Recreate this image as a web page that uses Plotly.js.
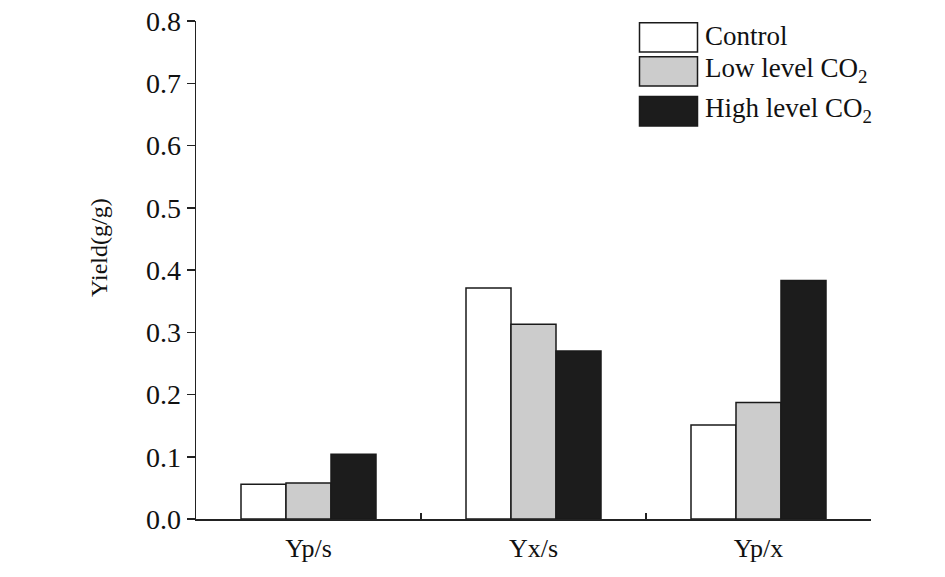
<!DOCTYPE html>
<html>
<head>
<meta charset="utf-8">
<script src="https://cdn.plot.ly/plotly-3.0.1.min.js"></script>
<style>html,body{margin:0;padding:0;background:#fff;}#chart{width:945px;height:577px;}</style>
</head>
<body>
<div id="chart"></div>
<script>
const categories = ["Yp/s", "Yx/s", "Yp/x"];
const seriesNames = ["Control", "Low level CO<sub>2</sub>", "High level CO<sub>2</sub>"];
const control = [0.056, 0.371, 0.151];
const lowCO2 = [0.058, 0.313, 0.187];
const highCO2 = [0.104, 0.270, 0.383];
const yTickVals = [0, 0.1, 0.2, 0.3, 0.4, 0.5, 0.6, 0.7, 0.8];
const yTitle = "Yield(g/g)";

const fills = ["#ffffff", "#cccccc", "#1c1c1c"];
const values = [control, lowCO2, highCO2];
const FONT = "Liberation Serif, Times New Roman, serif";

const traces = values.map((v, i) => ({
  type: "bar",
  x: categories,
  y: v,
  name: seriesNames[i],
  marker: {color: fills[i], line: {color: "#1a1a1a", width: 1.5}},
  showlegend: false,
  hoverinfo: "x+y"
}));

// legend drawn as boxes + labels in paper coordinates
const shapes = [];
const annotations = [];
const legTop = [22.7, 56.7, 96.5];
const legBot = [52, 86, 126];
const H = 577 - 21 - 58;
const W = 945 - 196 - 74;
function px2x(px) { return (px - 196) / W; }
function py2y(py) { return 1 - (py - 21) / H; }
seriesNames.forEach((n, i) => {
  shapes.push({type: "rect", xref: "paper", yref: "paper",
    x0: px2x(639.5), x1: px2x(697.5), y0: py2y(legBot[i]), y1: py2y(legTop[i]),
    fillcolor: fills[i], line: {color: "#1a1a1a", width: 1.5}});
  annotations.push({xref: "paper", yref: "paper", x: px2x(703), y: py2y((legTop[i] + legBot[i]) / 2 - 1),
    xanchor: "left", yanchor: "middle", text: n, showarrow: false,
    font: {family: FONT, size: 27, color: "#111"}});
});
annotations.push({xref: "paper", yref: "paper", x: px2x(99), y: py2y(248),
  xanchor: "center", yanchor: "middle", textangle: -90, text: yTitle, showarrow: false,
  font: {family: FONT, size: 24, color: "#111"}});

const layout = {
  width: 945, height: 577,
  margin: {l: 196, r: 74, t: 21, b: 58},
  paper_bgcolor: "#fff", plot_bgcolor: "#fff",
  barmode: "group", bargap: 0.4, bargroupgap: 0,
  font: {family: FONT, color: "#111"},
  xaxis: {
    type: "category", range: [-0.5, 2.5],
    showline: true, linecolor: "#222", linewidth: 1.5,
    ticks: "inside", tickson: "boundaries", ticklen: 6, tickcolor: "#222", tickwidth: 1.5,
    showgrid: false, zeroline: false, ticklabelstandoff: 5,
    tickfont: {family: FONT, size: 26, color: "#111"}
  },
  yaxis: {
    range: [0, 0.8], tickvals: yTickVals, tickformat: ".1f",
    showline: true, linecolor: "#222", linewidth: 1.5,
    ticks: "outside", ticklen: 8, tickcolor: "#222", tickwidth: 1.5,
    showgrid: false, zeroline: false,
    tickfont: {family: FONT, size: 28, color: "#111"}
  },
  shapes: shapes,
  annotations: annotations
};

Plotly.newPlot("chart", traces, layout, {displayModeBar: false, staticPlot: true});
</script>
</body>
</html>
